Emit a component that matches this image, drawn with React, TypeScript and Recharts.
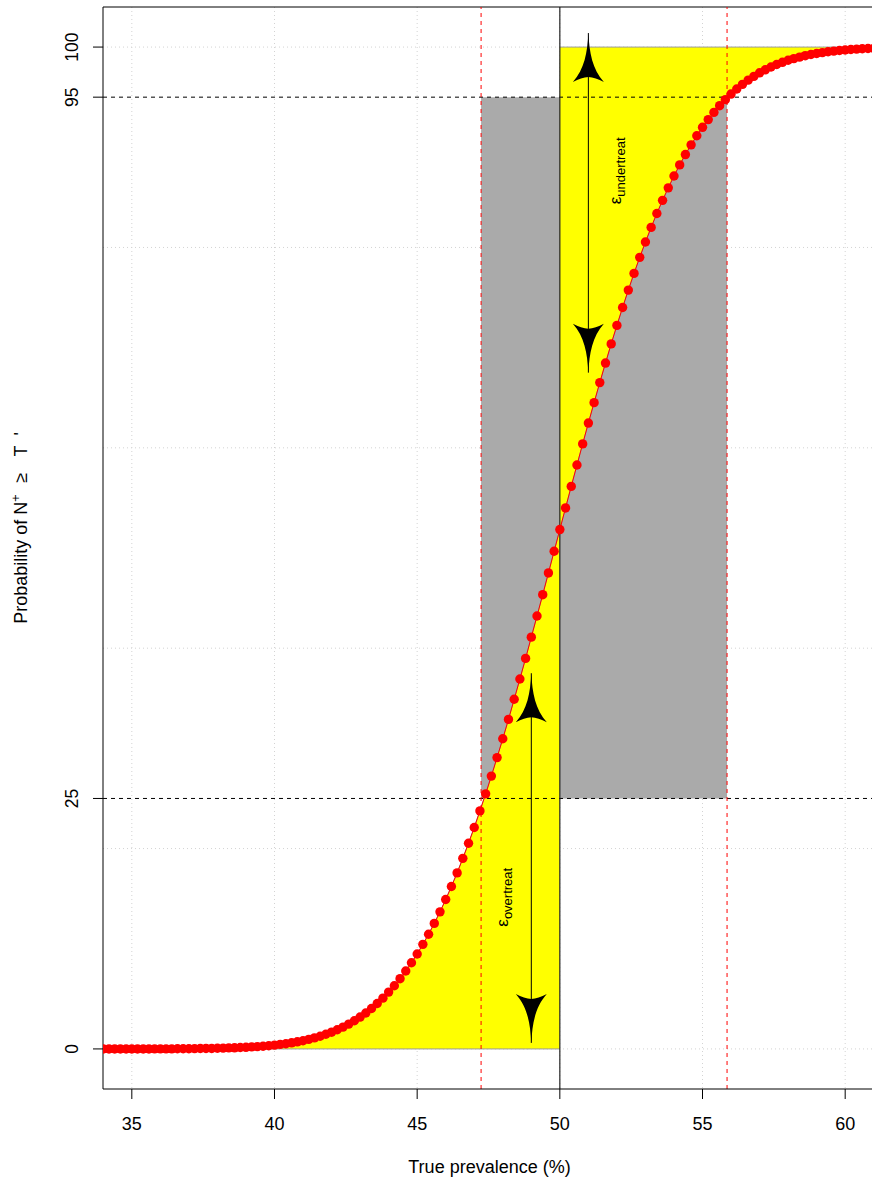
import React from 'react';
import {
  ComposedChart,
  Line,
  Area,
  XAxis,
  YAxis,
  CartesianGrid,
  ReferenceLine,
  ReferenceArea,
  ReferenceDot
} from 'recharts';

// true prevalence (%), one point every 0.2
const prevalence = [
  34, 34.2, 34.4, 34.6, 34.8,
  35, 35.2, 35.4, 35.6, 35.8,
  36, 36.2, 36.4, 36.6, 36.8,
  37, 37.2, 37.4, 37.6, 37.8,
  38, 38.2, 38.4, 38.6, 38.8,
  39, 39.2, 39.4, 39.6, 39.8,
  40, 40.2, 40.4, 40.6, 40.8,
  41, 41.2, 41.4, 41.6, 41.8,
  42, 42.2, 42.4, 42.6, 42.8,
  43, 43.2, 43.4, 43.6, 43.8,
  44, 44.2, 44.4, 44.6, 44.8,
  45, 45.2, 45.4, 45.6, 45.8,
  46, 46.2, 46.4, 46.6, 46.8,
  47, 47.2, 47.4, 47.6, 47.8,
  48, 48.2, 48.4, 48.6, 48.8,
  49, 49.2, 49.4, 49.6, 49.8,
  50, 50.2, 50.4, 50.6, 50.8,
  51, 51.2, 51.4, 51.6, 51.8,
  52, 52.2, 52.4, 52.6, 52.8,
  53, 53.2, 53.4, 53.6, 53.8,
  54, 54.2, 54.4, 54.6, 54.8,
  55, 55.2, 55.4, 55.6, 55.8,
  56, 56.2, 56.4, 56.6, 56.8,
  57, 57.2, 57.4, 57.6, 57.8,
  58, 58.2, 58.4, 58.6, 58.8,
  59, 59.2, 59.4, 59.6, 59.8,
  60, 60.2, 60.4, 60.6, 60.8,
  61, 61.2
];

// probability of N+ >= T' (%)
const probability = [
  0, 0, 0, 0, 0,
  0, 0, 0, 0, 0.01,
  0.01, 0.01, 0.01, 0.02, 0.02,
  0.02, 0.03, 0.04, 0.05, 0.05,
  0.07, 0.08, 0.1, 0.11, 0.14,
  0.16, 0.2, 0.23, 0.27, 0.32,
  0.38, 0.45, 0.52, 0.61, 0.71,
  0.82, 0.95, 1.1, 1.27, 1.46,
  1.67, 1.91, 2.18, 2.48, 2.81,
  3.18, 3.59, 4.04, 4.53, 5.07,
  5.67, 6.31, 7.01, 7.78, 8.6,
  9.48, 10.44, 11.45, 12.53, 13.68,
  14.91, 16.21, 17.57, 19.02, 20.53,
  22.1, 23.76, 25.46, 27.23, 29.08,
  30.96, 32.89, 34.9, 36.92, 38.98,
  41.1, 43.21, 45.34, 47.51, 49.68,
  51.84, 54.0, 56.15, 58.28, 60.39,
  62.47, 64.51, 66.51, 68.46, 70.37,
  72.22, 74.01, 75.74, 77.41, 79.01,
  80.54, 82.0, 83.39, 84.7, 85.95,
  87.13, 88.24, 89.27, 90.24, 91.15,
  91.99, 92.76, 93.48, 94.15, 94.75,
  95.31, 95.82, 96.28, 96.7, 97.08,
  97.43, 97.73, 98.01, 98.26, 98.48,
  98.68, 98.85, 99.0, 99.14, 99.26,
  99.36, 99.45, 99.53, 99.6, 99.66,
  99.71, 99.76, 99.8, 99.83, 99.86,
  99.88, 99.9
];

const xTicks = [35, 40, 45, 50, 55, 60];
const yTicks = [0, 25, 95, 100];
const yGrid = [0, 20, 40, 60, 80, 100];

const threshold = 50;
const lowerCut = 47.24;
const upperCut = 55.86;
const lowerConf = 25;
const upperConf = 95;

// double arrows: x position, bottom tip, top tip
const overArrow = { x: 49, from: 0.6, to: 37.5 };
const underArrow = { x: 51, from: 67.5, to: 101.4 };

const overLabel = { x: 48.18, y: 12.2, text: 'overtreat' };
const underLabel = { x: 52.16, y: 84.3, text: 'undertreat' };

const FONT = '"Liberation Sans", Arial, Helvetica, sans-serif';

const rows = prevalence.map((x, i) => {
  const p = probability[i];
  return {
    x,
    p,
    under: x <= threshold ? [0, p] : null,
    over: x >= threshold ? [p, 100] : null
  };
});

const YTick = ({ x, y, payload }: any) => {
  const tx = x - 15;
  return (
    <text
      x={tx}
      y={y}
      transform={`rotate(-90, ${tx}, ${y})`}
      textAnchor="middle"
      fontSize={17.5}
      fontFamily={FONT}
      fill="#000"
    >
      {payload.value}
    </text>
  );
};

const ArrowHead = ({ cx, cy, up }: any) => (
  <path
    d="M0,0 C1,20 4,36 15.5,49 Q7,44.5 0,44 Q-7,44.5 -15.5,49 C-4,36 -1,20 0,0 Z"
    transform={`translate(${cx},${cy}) scale(1,${up ? 1 : -1})`}
    fill="#000"
  />
);

const EpsLabel = ({ cx, cy, sub }: any) => (
  <text transform={`translate(${cx},${cy}) rotate(-90)`} fontFamily={FONT} fill="#000">
    <tspan fontSize={17}>ε</tspan>
    <tspan fontSize={13} dy={4}>{sub}</tspan>
  </text>
);

const renderArrow = (a: { x: number; from: number; to: number }) => [
  <ReferenceLine
    key={`s${a.x}`}
    segment={[{ x: a.x, y: a.from }, { x: a.x, y: a.to }]}
    stroke="#000"
    strokeWidth={1}
  />,
  <ReferenceDot
    key={`t${a.x}`}
    x={a.x}
    y={a.to}
    r={0}
    shape={(p: any) => <ArrowHead cx={p.cx} cy={p.cy} up />}
  />,
  <ReferenceDot
    key={`b${a.x}`}
    x={a.x}
    y={a.from}
    r={0}
    shape={(p: any) => <ArrowHead cx={p.cx} cy={p.cy} up={false} />}
  />
];

export default function App() {
  return (
    <div
      style={{
        position: 'absolute',
        left: 0,
        top: 0,
        width: 872,
        height: 1177,
        overflow: 'hidden',
        background: '#fff'
      }}
    >
      <ComposedChart
        width={876}
        height={1177}
        data={rows}
        margin={{ top: 7, right: 0, bottom: 0, left: 0 }}
      >
        <CartesianGrid
          stroke="#d3d3d3"
          strokeDasharray="1 3"
          horizontalValues={yGrid}
          verticalValues={xTicks}
        />
        <ReferenceArea x1={lowerCut} x2={threshold} y1={lowerConf} y2={upperConf} fill="#aaaaaa" fillOpacity={1} stroke="none" />
        <ReferenceArea x1={threshold} x2={upperCut} y1={lowerConf} y2={upperConf} fill="#aaaaaa" fillOpacity={1} stroke="none" />
        <Area
          dataKey="under"
          type="linear"
          fill="#ffff00"
          fillOpacity={1}
          stroke="#9a9a9a"
          strokeWidth={1}
          dot={false}
          activeDot={false}
          isAnimationActive={false}
        />
        <Area
          dataKey="over"
          type="linear"
          fill="#ffff00"
          fillOpacity={1}
          stroke="#9a9a9a"
          strokeWidth={1}
          dot={false}
          activeDot={false}
          isAnimationActive={false}
        />
        <XAxis
          dataKey="x"
          type="number"
          domain={[33.99, 61.08]}
          allowDataOverflow
          ticks={xTicks}
          height={88}
          tickSize={10}
          tickMargin={18}
          stroke="#000"
          tick={{ fontSize: 18, fill: '#000', fontFamily: FONT }}
        />
        <YAxis
          type="number"
          domain={[-4, 104]}
          allowDataOverflow
          ticks={yTicks}
          width={103}
          tickSize={10}
          tickMargin={0}
          stroke="#000"
          tick={<YTick />}
        />
        <ReferenceLine y={104} stroke="#000" strokeWidth={1} />
        <ReferenceLine y={lowerConf} stroke="#000" strokeDasharray="4 4" />
        <ReferenceLine y={upperConf} stroke="#000" strokeDasharray="4 4" />
        <ReferenceLine x={lowerCut} stroke="#ff0000" strokeDasharray="4 4" />
        <ReferenceLine x={upperCut} stroke="#ff0000" strokeDasharray="4 4" />
        <ReferenceLine x={threshold} stroke="#222" strokeWidth={1.2} />
        <Line
          dataKey="p"
          type="linear"
          stroke="#ff0000"
          strokeWidth={1}
          dot={{ r: 4.7, fill: '#ff0000', stroke: 'none' }}
          activeDot={false}
          isAnimationActive={false}
        />
        {renderArrow(overArrow)}
        {renderArrow(underArrow)}
        <ReferenceDot
          x={overLabel.x}
          y={overLabel.y}
          r={0}
          shape={(p: any) => <EpsLabel cx={p.cx} cy={p.cy} sub={overLabel.text} />}
        />
        <ReferenceDot
          x={underLabel.x}
          y={underLabel.y}
          r={0}
          shape={(p: any) => <EpsLabel cx={p.cx} cy={p.cy} sub={underLabel.text} />}
        />
        <text x={489.5} y={1173} textAnchor="middle" fontSize={18} fontFamily={FONT} fill="#000">
          True prevalence (%)
        </text>
        <text transform="translate(27,528) rotate(-90)" textAnchor="middle" fontSize={18} fontFamily={FONT} fill="#000">
          Probability of N<tspan dy={-7} fontSize={12.5}>+</tspan>
          <tspan dy={7} dx={12}>≥</tspan>
          <tspan dx={16}>T</tspan>
          <tspan dx={10}>'</tspan>
        </text>
      </ComposedChart>
    </div>
  );
}
